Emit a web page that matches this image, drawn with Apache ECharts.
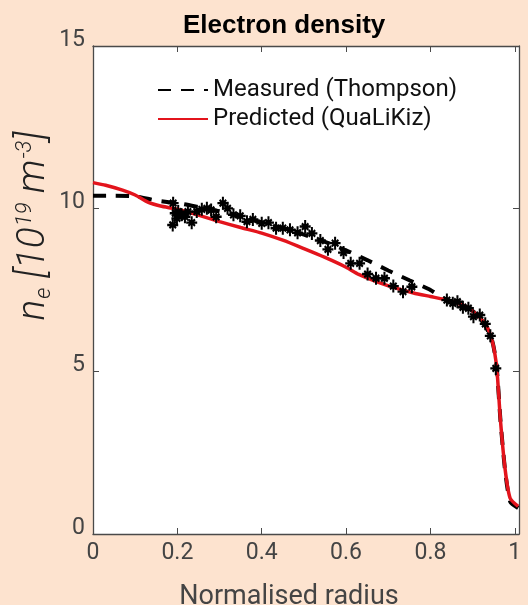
<!DOCTYPE html>
<html>
<head>
<meta charset="utf-8">
<script src="https://cdn.jsdelivr.net/npm/echarts@6/dist/echarts.min.js"></script>
<style>
html,body{margin:0;padding:0;background:#FDE3CF;}
#c{width:528px;height:605px;}
</style>
</head>
<body>
<div id="c"></div>
<script>
// Measured (Thompson) fit – dashed black
const measuredR = [0, 0.05, 0.10, 0.15, 0.21, 0.25, 0.30, 0.35, 0.40, 0.45, 0.50, 0.55, 0.60, 0.65, 0.70, 0.75, 0.80, 0.83, 0.86, 0.89, 0.91, 0.93, 0.945, 0.952, 0.958, 0.966, 0.977, 0.989, 1.008];
const measuredNe = [10.40, 10.40, 10.38, 10.25, 10.15, 10.05, 9.92, 9.76, 9.58, 9.40, 9.20, 8.98, 8.72, 8.42, 8.10, 7.80, 7.50, 7.25, 7.10, 6.95, 6.75, 6.40, 6.00, 5.60, 5.00, 3.50, 1.95, 1.00, 0.80];

// Predicted (QuaLiKiz) – red
const predictedR = [0, 0.03, 0.07, 0.10, 0.13, 0.16, 0.20, 0.25, 0.30, 0.35, 0.40, 0.45, 0.50, 0.55, 0.60, 0.63, 0.68, 0.72, 0.76, 0.80, 0.84, 0.87, 0.89, 0.92, 0.935, 0.945, 0.952, 0.958, 0.966, 0.977, 0.989, 1.008];
const predictedNe = [10.80, 10.72, 10.57, 10.42, 10.20, 10.08, 9.98, 9.80, 9.60, 9.42, 9.25, 9.03, 8.77, 8.50, 8.20, 7.98, 7.72, 7.55, 7.41, 7.30, 7.19, 7.07, 6.95, 6.62, 6.35, 6.00, 5.60, 5.00, 3.50, 2.00, 1.10, 0.85];

// Thomson scattering measurement points (asterisks)
const pointsR = [0.189, 0.190, 0.195, 0.199, 0.202, 0.210, 0.218, 0.225, 0.234, 0.246, 0.258, 0.270, 0.280, 0.292, 0.308, 0.319, 0.333, 0.349, 0.365, 0.379, 0.400, 0.416, 0.434, 0.450, 0.467, 0.485, 0.503, 0.519, 0.539, 0.557, 0.574, 0.594, 0.611, 0.632, 0.651, 0.671, 0.691, 0.712, 0.735, 0.756, 0.839, 0.853, 0.864, 0.877, 0.890, 0.902, 0.917, 0.930, 0.942, 0.955];
const pointsNe = [9.50, 10.17, 9.86, 9.70, 9.91, 9.81, 9.75, 9.91, 9.57, 9.91, 9.98, 10.01, 9.96, 9.75, 10.17, 10.01, 9.81, 9.78, 9.60, 9.67, 9.55, 9.57, 9.40, 9.40, 9.35, 9.26, 9.45, 9.24, 9.02, 8.75, 8.94, 8.65, 8.32, 8.32, 7.99, 7.86, 7.86, 7.62, 7.45, 7.60, 7.19, 7.09, 7.14, 6.97, 6.94, 6.68, 6.73, 6.46, 6.09, 5.09];

const xMin = 0, xMax = 1.01, xStep = 0.2;
const yMin = 0, yMax = 15, yStep = 5;

const titleText = 'Electron density';
const xName = 'Normalised radius';
const legendNames = ['Measured (Thompson)', 'Predicted (QuaLiKiz)'];

const zip = (a, b) => a.map((v, i) => [v, b[i]]);
const axisColor = '#4a4a4a';
const labelColor = '#444';
const labelFont = 'Roboto, "DejaVu Sans", sans-serif';

function xFmt(v) {
  const k = Math.round(v / xStep);
  if (Math.abs(v - k * xStep) > 1e-6) return '';
  return String(parseFloat((k * xStep).toFixed(1)));
}

const chart = echarts.init(document.getElementById('c'), null, {renderer: 'canvas'});
chart.setOption({
  backgroundColor: '#FDE3CF',
  animation: false,
  title: {
    text: titleText,
    left: 178, top: 8,
    textStyle: {fontFamily: '"Liberation Sans", Arial, sans-serif', fontWeight: 'bold', fontSize: 26, color: '#000'}
  },
  legend: {
    data: legendNames,
    orient: 'vertical',
    left: 152, top: 73,
    itemWidth: 50, itemHeight: 14, itemGap: 5,
    itemStyle: {opacity: 0, borderWidth: 0},
    textStyle: {fontFamily: labelFont, fontSize: 24, color: '#111'}
  },
  grid: {left: 93, top: 46, width: 426, height: 488, show: true, backgroundColor: '#fff', borderWidth: 0, containLabel: false, outerBoundsMode: 'none'},
  xAxis: [{
    type: 'value', min: xMin, max: xMax, interval: xStep, position: 'bottom',
    axisLine: {show: true, onZero: false, lineStyle: {color: axisColor, width: 1.3}},
    axisTick: {show: true, inside: true, length: 6, lineStyle: {color: axisColor}},
    axisLabel: {formatter: xFmt, margin: 8, fontFamily: labelFont, fontSize: 23, color: labelColor, showMaxLabel: true},
    splitLine: {show: false},
    name: xName, nameLocation: 'middle', nameGap: 50,
    nameTextStyle: {fontFamily: labelFont, fontSize: 27, color: labelColor, padding: [0, 34, 0, 0]}
  }, {
    type: 'value', min: xMin, max: xMax, interval: xStep, position: 'top',
    axisLine: {show: true, onZero: false, lineStyle: {color: axisColor, width: 1.3}},
    axisTick: {show: true, inside: true, length: 6, lineStyle: {color: axisColor}},
    axisLabel: {show: false}, splitLine: {show: false}
  }],
  yAxis: [{
    type: 'value', min: yMin, max: yMax, interval: yStep, position: 'left',
    axisLine: {show: true, onZero: false, lineStyle: {color: axisColor, width: 1.3}},
    axisTick: {show: true, inside: true, length: 6, lineStyle: {color: axisColor}},
    axisLabel: {margin: 8, fontFamily: labelFont, fontSize: 23, color: labelColor, verticalAlign: 'bottom', lineHeight: 12},
    splitLine: {show: false}
  }, {
    type: 'value', min: yMin, max: yMax, interval: yStep, position: 'right',
    axisLine: {show: true, onZero: false, lineStyle: {color: axisColor, width: 1.3}},
    axisTick: {show: true, inside: true, length: 6, lineStyle: {color: axisColor}},
    axisLabel: {show: false}, splitLine: {show: false}
  }],
  graphic: [{
    type: 'text',
    x: 34, y: 226,
    rotation: Math.PI / 2,
    style: {
      text: '{i|n}{sub|e}{i| [10}{sup|19}{i| m}{sup|-3}{i|]}',
      align: 'center', verticalAlign: 'middle',
      fill: '#222',
      rich: {
        i: {fontFamily: 'Roboto, "DejaVu Sans", sans-serif', fontStyle: 'italic', fontWeight: 300, fontSize: 39, fill: '#222', lineHeight: 46, verticalAlign: 'middle'},
        sub: {fontFamily: 'Roboto, "DejaVu Sans", sans-serif', fontStyle: 'italic', fontWeight: 300, fontSize: 22, fill: '#222', lineHeight: 46, padding: [20, 0, 0, 1]},
        sup: {fontFamily: 'Roboto, "DejaVu Sans", sans-serif', fontStyle: 'italic', fontWeight: 300, fontSize: 22, fill: '#222', lineHeight: 46, padding: [0, 0, 18, 1]}
      }
    }
  }],
  series: [{
    name: legendNames[0],
    type: 'line',
    data: zip(measuredR, measuredNe),
    symbol: 'none',
    smooth: 0.2,
    lineStyle: {color: '#000', width: 4, type: [13, 10]},
    itemStyle: {color: '#000'},
    z: 2
  }, {
    name: legendNames[1],
    type: 'line',
    data: zip(predictedR, predictedNe),
    symbol: 'none',
    smooth: 0.2,
    lineStyle: {color: '#e3141c', width: 3.5},
    itemStyle: {color: '#e3141c'},
    z: 3
  }, {
    name: 'points',
    type: 'scatter',
    data: zip(pointsR, pointsNe),
    symbol: 'path://M0,-12L0,12M-10,0L10,0M-6,-6L6,6M-6,6L6,-6',
    symbolSize: [11, 13],
    itemStyle: {color: 'none', borderColor: '#000', borderWidth: 2.2, opacity: 1},
    z: 4
  }]
});
</script>
</body>
</html>
